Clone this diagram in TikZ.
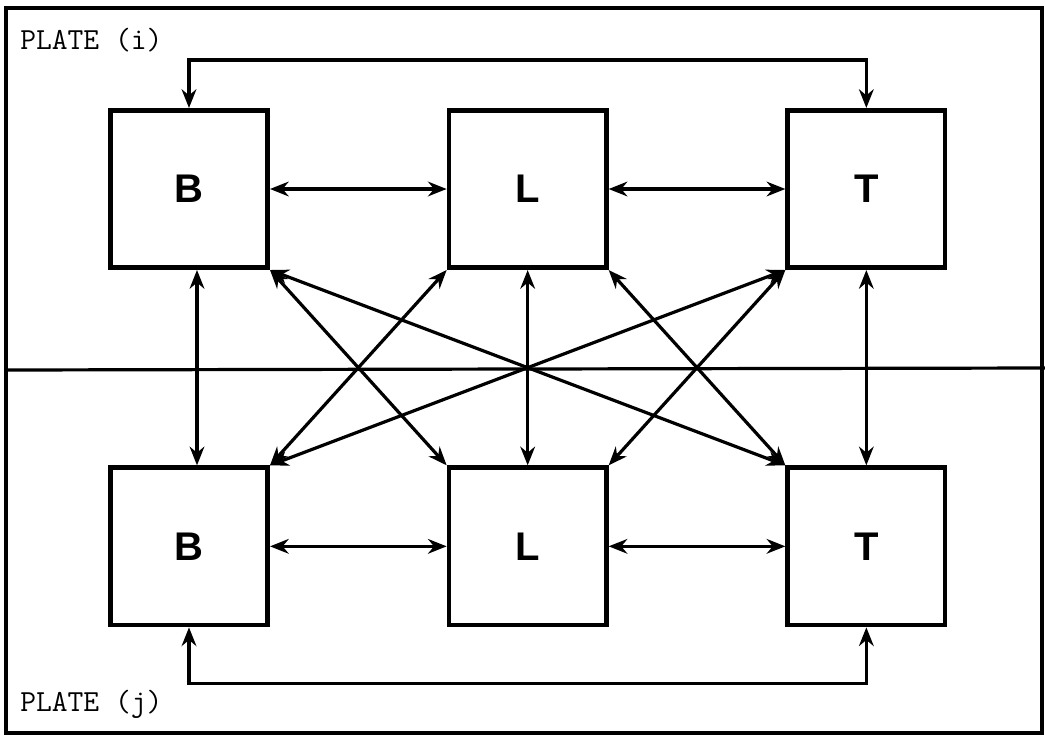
\documentclass[tikz,border=0pt]{standalone}
\usepackage{fontspec}
\usepackage{tikz}
\usetikzlibrary{arrows.meta}
\newfontfamily\boxfont{Liberation Sans}

\begin{document}
\begin{tikzpicture}[x=0.75pt, y=-0.75pt,
    block/.style={draw, rectangle, line width=3.5pt, minimum size=118pt, inner sep=0pt, font=\boxfont\bfseries\fontsize{30}{30}\selectfont},
    link/.style={<->, line width=2.4pt},
    platelabel/.style={anchor=base west, inner sep=0pt, font=\ttfamily\fontsize{23}{23}\selectfont},
    >={Stealth[length=14pt, width=11pt]}]
    \useasboundingbox (0,0) rectangle (1045,736);
    \draw[line width=3pt] (6,8) rectangle (1042,733);
    \draw[line width=2.4pt] (6,370) -- (1045,368);

    \node (bi) [block] at (189,189) {B};
    \node (li) [block, right of=bi, node distance=254pt] {L};
    \node (ti) [block, right of=li, node distance=254pt] {T};
    \node (bj) [block, below of=bi, node distance=268pt] {B};
    \node (lj) [block, right of=bj, node distance=254pt] {L};
    \node (tj) [block, right of=lj, node distance=254pt] {T};

    \node (platei) [platelabel] at (20,49) {PLATE (i)};
    \node (platej) [platelabel] at (20,711) {PLATE (j)};

    % same plate
    \draw[link] (bi.east) -- (li.west);
    \draw[link] (li.east) -- (ti.west);
    \draw[link] (bj.east) -- (lj.west);
    \draw[link] (lj.east) -- (tj.west);
    \draw[link] (bi.north) -- ++(0,-48) -| (ti.north);
    \draw[link] (bj.south) -- ++(0,56) -| (tj.south);

    % plate to plate
    \draw[link] ([xshift=6pt]bi.south) -- ([xshift=6pt]bj.north);
    \draw[link] (li.south) -- (lj.north);
    \draw[link] (ti.south) -- (tj.north);
    \draw[link] (bi.south east) -- (lj.north west);
    \draw[link] (bi.south east) -- (tj.north west);
    \draw[link] (li.south west) -- (bj.north east);
    \draw[link] (li.south east) -- (tj.north west);
    \draw[link] (ti.south west) -- (bj.north east);
    \draw[link] (ti.south west) -- (lj.north east);
\end{tikzpicture}
\end{document}
